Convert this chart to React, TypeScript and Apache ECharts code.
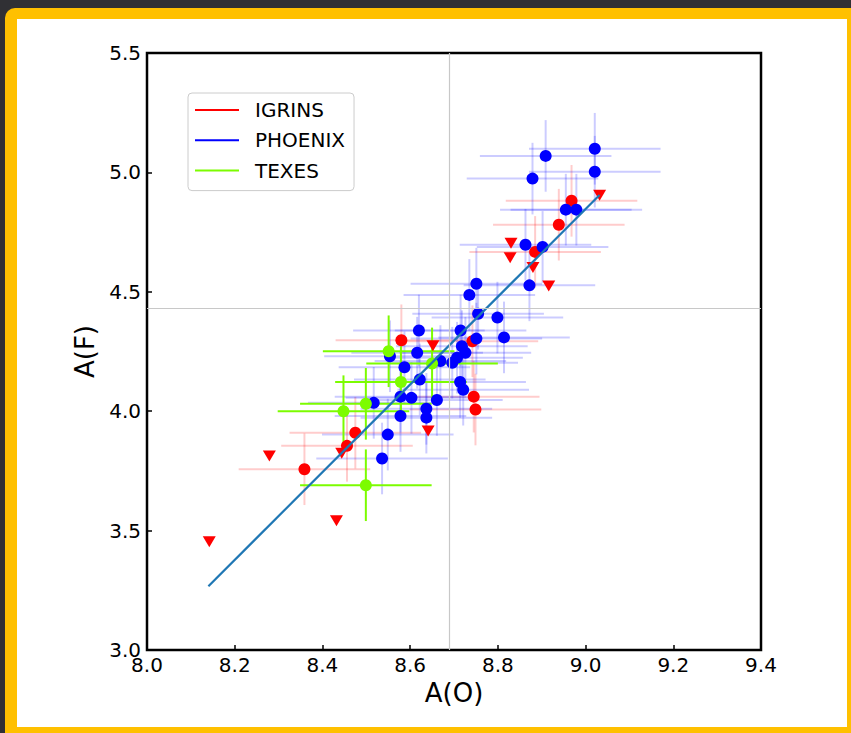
import React, { useEffect, useRef } from "react";
import * as echarts from "echarts";

// ---- data ----
const IGRINS_X = [8.359, 8.456, 8.475, 8.58, 8.742, 8.745, 8.749, 8.885, 8.939, 8.968];
const IGRINS_Y = [3.757, 3.855, 3.91, 4.297, 4.293, 4.061, 4.007, 4.667, 4.781, 4.881];

const IGRINS_LIMIT_X = [8.142, 8.279, 8.432, 8.444, 8.641, 8.652, 8.828, 8.83, 8.88, 8.916, 9.032];
const IGRINS_LIMIT_Y = [3.453, 3.812, 3.541, 3.824, 3.917, 4.274, 4.643, 4.703, 4.602, 4.524, 4.904];

const PHOENIX_X = [
  9.021, 9.021, 8.909, 8.879, 8.955, 8.979, 8.863, 8.902, 8.872, 8.751, 8.735, 8.755, 8.799,
  8.814, 8.751, 8.715, 8.718, 8.726, 8.707, 8.696, 8.669, 8.62, 8.616, 8.554, 8.587, 8.622,
  8.714, 8.721, 8.661, 8.637, 8.637, 8.603, 8.578, 8.517, 8.578, 8.549, 8.536,
];
const PHOENIX_Y = [
  5.099, 5.003, 5.069, 4.974, 4.844, 4.844, 4.697, 4.688, 4.527, 4.534, 4.487, 4.408, 4.392,
  4.309, 4.304, 4.338, 4.272, 4.245, 4.224, 4.203, 4.21, 4.338, 4.245, 4.23, 4.184, 4.133,
  4.122, 4.09, 4.047, 4.01, 3.973, 4.056, 4.061, 4.035, 3.98, 3.902, 3.802,
];

const TEXES_X = [8.551, 8.579, 8.499, 8.448, 8.499, 8.65];
const TEXES_Y = [4.251, 4.122, 4.031, 4.0, 3.69, 4.2];

// error bars (same for every detection)
const ERR_O = 0.15;
const ERR_F = 0.15;

// fitted line end points
const FIT_X = [8.14, 9.032];
const FIT_Y = [3.267, 4.905];

// solar reference values
const SOLAR_O = 8.69;
const SOLAR_F = 4.43;

// axes
const X_MIN = 8.0, X_MAX = 9.4, X_STEP = 0.2;
const Y_MIN = 3.0, Y_MAX = 5.5, Y_STEP = 0.5;

const FONT = "DejaVu Sans";

function errRender(color: string, width: number) {
  return (params: any, api: any) => {
    const x = api.value(0);
    const y = api.value(1);
    const ex = api.value(2);
    const ey = api.value(3);
    const l = api.coord([x - ex, y]);
    const r = api.coord([x + ex, y]);
    const t = api.coord([x, y + ey]);
    const b = api.coord([x, y - ey]);
    return {
      type: "group",
      children: [
        { type: "line", shape: { x1: l[0], y1: l[1], x2: r[0], y2: r[1] }, style: { stroke: color, lineWidth: width } },
        { type: "line", shape: { x1: t[0], y1: t[1], x2: b[0], y2: b[1] }, style: { stroke: color, lineWidth: width } },
      ],
    };
  };
}

const pairs = (xs: number[], ys: number[]) => xs.map((x, i) => [x, ys[i]]);
const errs = (xs: number[], ys: number[]) => xs.map((x, i) => [x, ys[i], ERR_O, ERR_F]);

export default function App() {
  const ref = useRef<HTMLDivElement>(null);
  useEffect(() => {
    document.body.style.margin = "0";
    if (!ref.current) return;
    const chart = echarts.init(ref.current, null, { renderer: "svg" });
    const option: any = {
      animation: false,
      backgroundColor: "transparent",
      textStyle: { fontFamily: FONT },
      grid: {
        left: 147,
        top: 53,
        width: 614,
        height: 597,
        show: true,
        borderColor: "#000",
        borderWidth: 2.5,
        backgroundColor: "transparent",
      },
      legend: {
        orient: "vertical",
        left: 188,
        top: 93,
        padding: [5, 9, 8, 7],
        itemWidth: 44,
        itemHeight: 2,
        itemGap: 6.3,
        backgroundColor: "#fff",
        borderColor: "#cccccc",
        borderWidth: 1,
        borderRadius: 4,
        textStyle: { fontFamily: FONT, fontSize: 20, color: "#000", lineHeight: 24, padding: [0, 0, 0, 11] },
        data: [
          { name: "IGRINS", icon: "rect", itemStyle: { color: "#ff0000" } },
          { name: "PHOENIX", icon: "rect", itemStyle: { color: "#0000ff" } },
          { name: "TEXES", icon: "rect", itemStyle: { color: "#7cfc00" } },
        ],
      },
      xAxis: {
        type: "value",
        min: X_MIN,
        max: X_MAX,
        interval: X_STEP,
        name: "A(O)",
        nameLocation: "middle",
        nameGap: 25,
        nameTextStyle: { fontFamily: FONT, fontSize: 26, color: "#000" },
        axisLine: { show: false },
        axisTick: { show: true, inside: true, length: 5, lineStyle: { color: "#000", width: 1.5 } },
        axisLabel: { fontFamily: FONT, fontSize: 20, color: "#000", margin: 5, formatter: (v: number) => v.toFixed(1) },
        splitLine: { show: false },
      },
      yAxis: {
        type: "value",
        min: Y_MIN,
        max: Y_MAX,
        interval: Y_STEP,
        name: "A(F)",
        nameLocation: "middle",
        nameRotate: 90,
        nameGap: 44,
        nameTextStyle: { fontFamily: FONT, fontSize: 26, color: "#000" },
        axisLine: { show: false },
        axisTick: { show: true, inside: true, length: 5, lineStyle: { color: "#000", width: 1.5 } },
        axisLabel: { fontFamily: FONT, fontSize: 20, color: "#000", margin: 6, formatter: (v: number) => v.toFixed(1) },
        splitLine: { show: false },
      },
      series: [
        {
          type: "scatter",
          name: "solar reference",
          data: [[SOLAR_O, SOLAR_F]],
          symbolSize: 0,
          itemStyle: { opacity: 0 },
          silent: true,
          markLine: {
            silent: true,
            symbol: "none",
            label: { show: false },
            lineStyle: { color: "#c8c8c8", width: 1.2, type: "solid" },
            data: [{ xAxis: SOLAR_O }, { yAxis: SOLAR_F }],
          },
        },
        {
          type: "custom",
          name: "IGRINS error",
          data: errs(IGRINS_X, IGRINS_Y),
          encode: { x: 0, y: 1 },
          renderItem: errRender("rgba(255,0,0,0.2)", 2),
          silent: true,
        },
        {
          type: "scatter",
          name: "IGRINS",
          data: pairs(IGRINS_X, IGRINS_Y),
          symbol: "circle",
          symbolSize: 12,
          itemStyle: { color: "#ff0000", opacity: 1 },
        },
        {
          type: "scatter",
          name: "IGRINS upper limit",
          data: pairs(IGRINS_LIMIT_X, IGRINS_LIMIT_Y),
          symbol: "triangle",
          symbolRotate: 180,
          symbolSize: [13, 11],
          itemStyle: { color: "#ff0000", opacity: 1 },
        },
        {
          type: "custom",
          name: "PHOENIX error",
          data: errs(PHOENIX_X, PHOENIX_Y),
          encode: { x: 0, y: 1 },
          renderItem: errRender("rgba(0,0,255,0.2)", 2),
          silent: true,
        },
        {
          type: "scatter",
          name: "PHOENIX",
          data: pairs(PHOENIX_X, PHOENIX_Y),
          symbol: "circle",
          symbolSize: 12,
          itemStyle: { color: "#0000ff", opacity: 1 },
        },
        {
          type: "custom",
          name: "TEXES error",
          data: errs(TEXES_X, TEXES_Y),
          encode: { x: 0, y: 1 },
          renderItem: errRender("#7cfc00", 2),
          silent: true,
        },
        {
          type: "scatter",
          name: "TEXES",
          data: pairs(TEXES_X, TEXES_Y),
          symbol: "circle",
          symbolSize: 12,
          itemStyle: { color: "#7cfc00", opacity: 1 },
        },
        {
          type: "line",
          name: "fit",
          data: pairs(FIT_X, FIT_Y),
          symbol: "none",
          showSymbol: false,
          lineStyle: { color: "#1f77b4", width: 2.2 },
          silent: true,
        },
      ],
    };
    chart.setOption(option);
    return () => chart.dispose();
  }, []);

  return (
    <div style={{ position: "fixed", left: 0, top: 0, width: 851, height: 733, background: "#303034", overflow: "hidden" }}>
      <div style={{ position: "absolute", left: 5, top: 8, width: 846, height: 725, background: "#ffc000", borderTopLeftRadius: 10 }} />
      <div style={{ position: "absolute", left: 17, top: 19, width: 830, height: 708, background: "#ffffff" }} />
      <div ref={ref} style={{ position: "absolute", left: 0, top: 0, width: 851, height: 733 }} />
    </div>
  );
}
